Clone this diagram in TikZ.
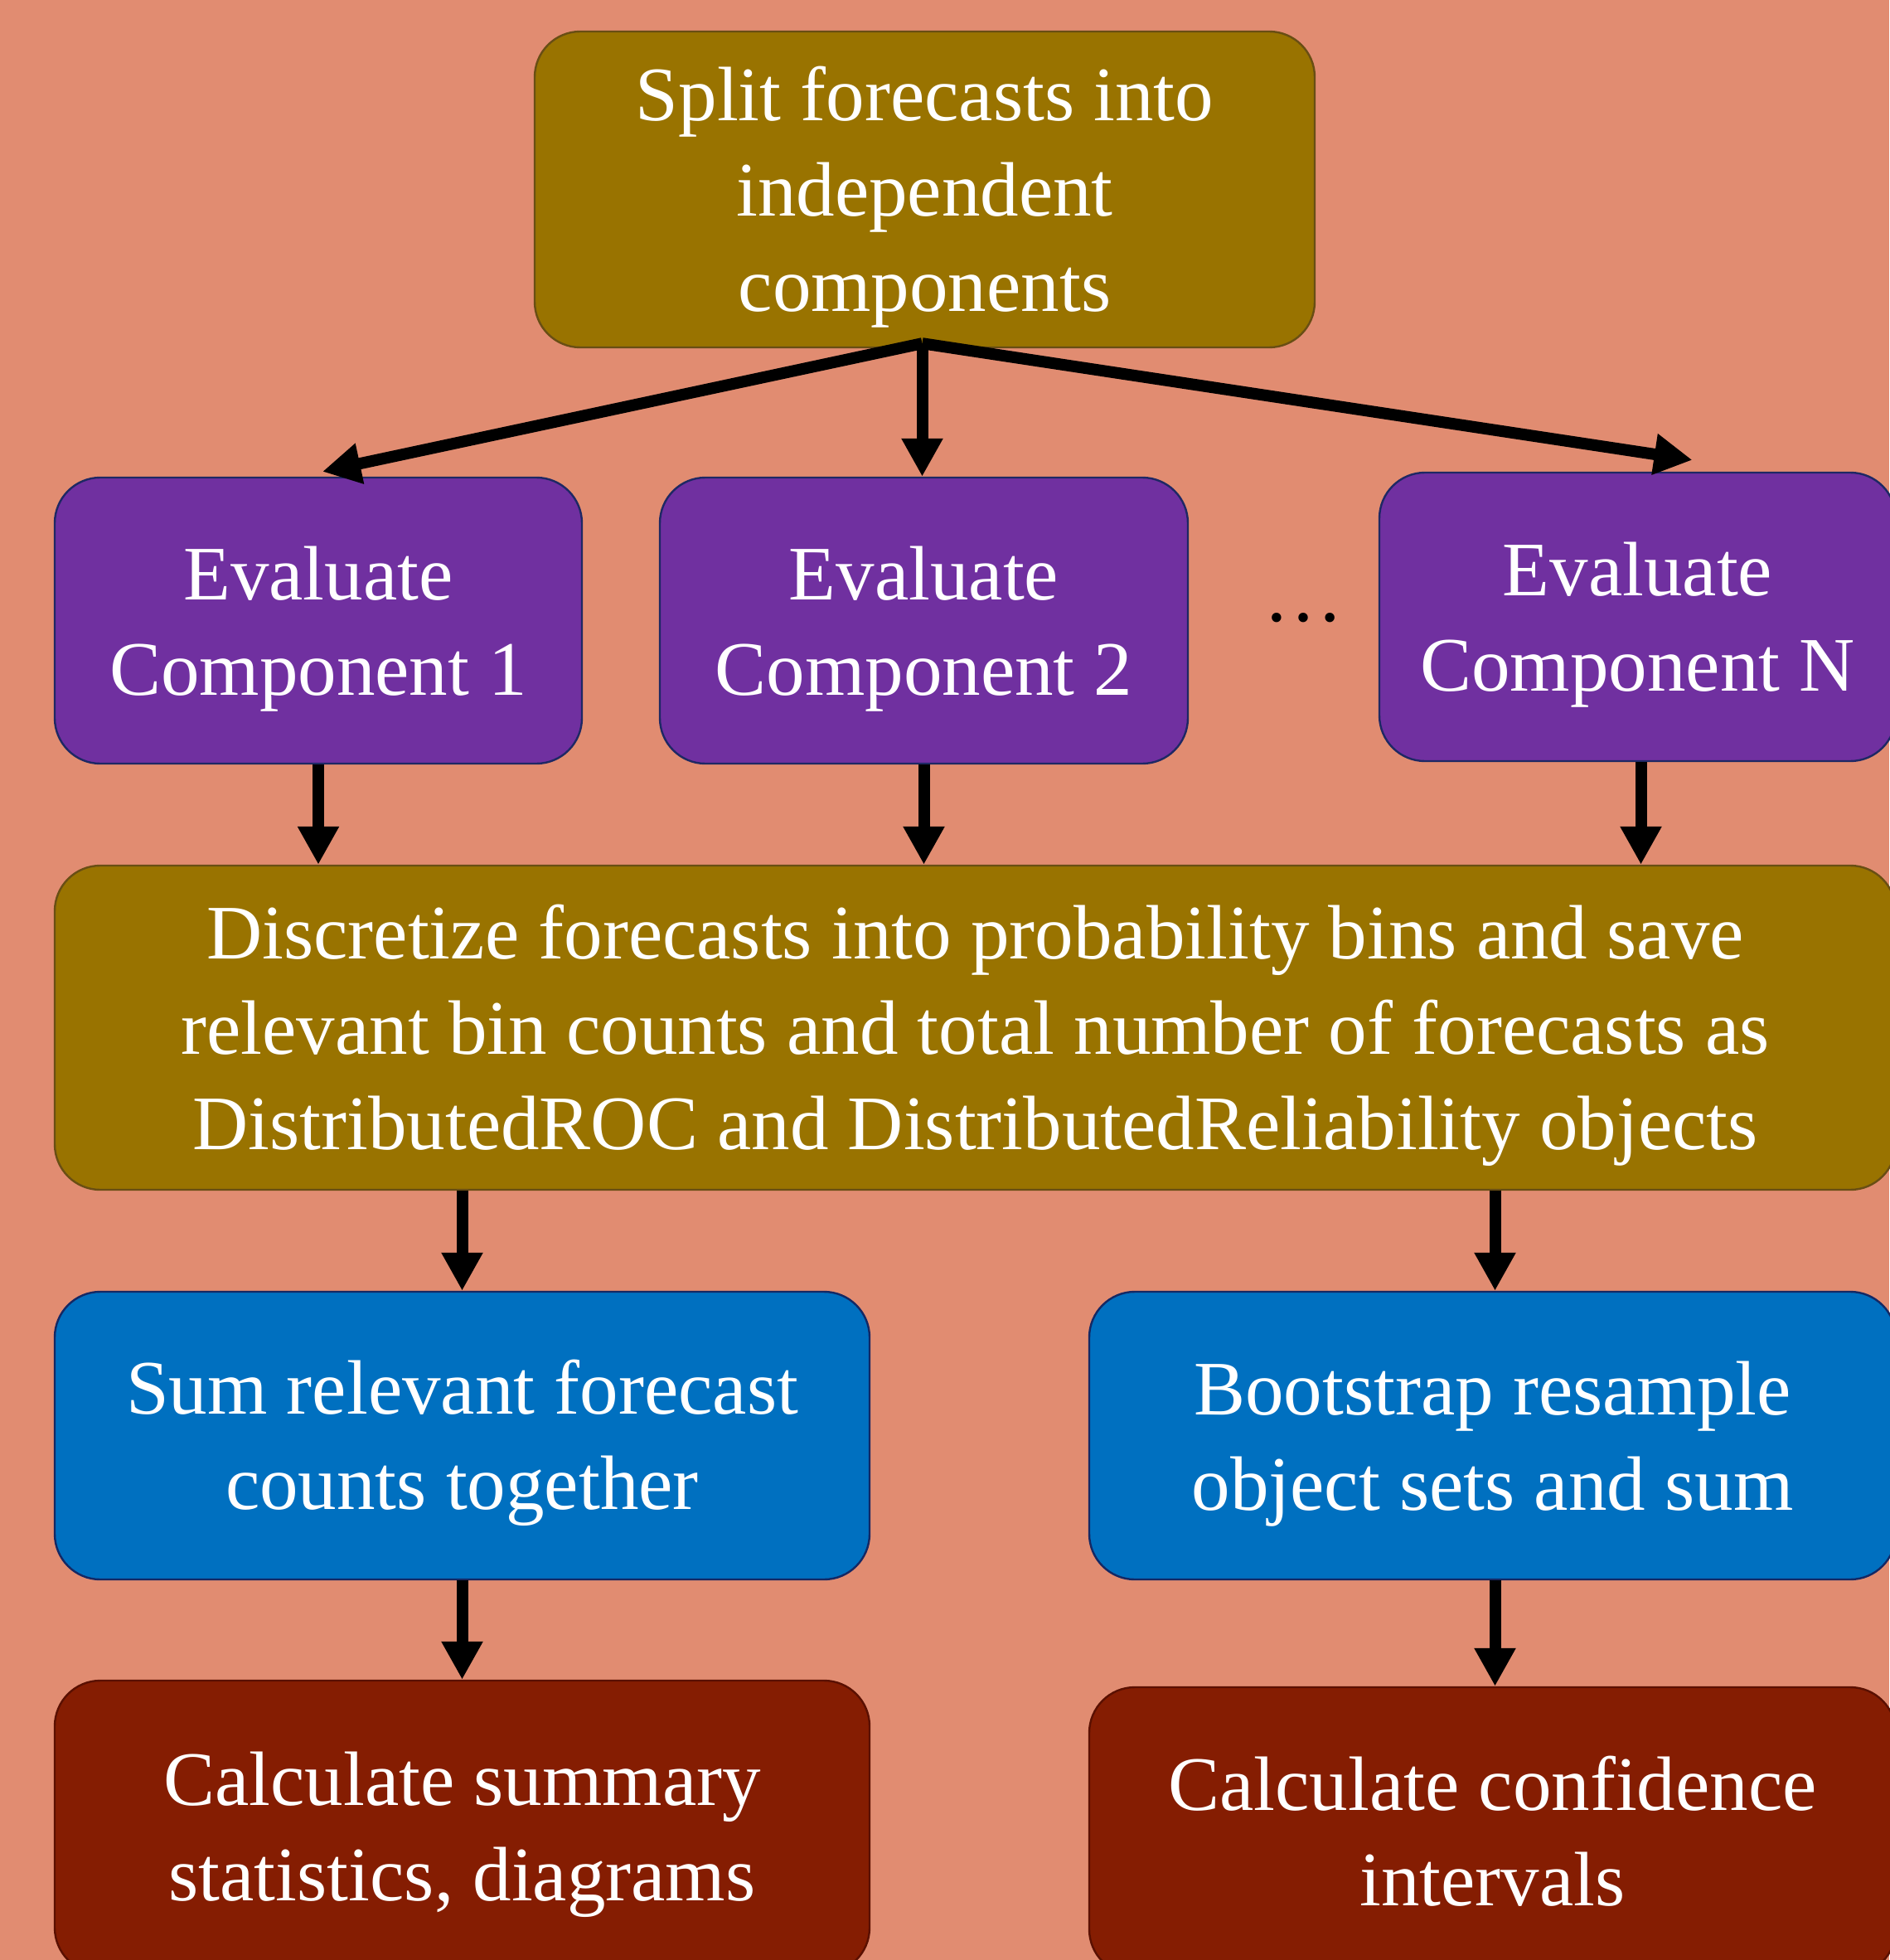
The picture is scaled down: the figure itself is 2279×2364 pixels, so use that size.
\documentclass[tikz,border=0pt]{standalone}
\usepackage{fontspec}
\setmainfont{Liberation Serif}
\usetikzlibrary{arrows.meta,calc}
\definecolor{bgc}{RGB}{225,140,113}
\definecolor{olivef}{RGB}{153,115,0}
\definecolor{oliveb}{RGB}{105,78,20}
\definecolor{purplef}{RGB}{112,48,160}
\definecolor{purpleb}{RGB}{30,40,100}
\definecolor{bluef}{RGB}{0,112,192}
\definecolor{blueb}{RGB}{20,40,100}
\definecolor{redf}{RGB}{133,29,2}
\definecolor{redb}{RGB}{90,16,0}
\newcommand{\topstrut}{\rule{0pt}{42pt}}
\newcommand{\lowstrut}{\rule{0pt}{33pt}}
\begin{document}
\begin{tikzpicture}[x=0.5pt,y=-0.5pt,
  box/.style={rounded corners=27.5pt, draw, line width=1.2pt, text=white,
    align=center, inner sep=0pt, font=\fontsize{46.5}{57.5}\selectfont},
  olivebox/.style={box, fill=olivef, draw=oliveb},
  purplebox/.style={box, fill=purplef, draw=purpleb},
  bluebox/.style={box, fill=bluef, draw=blueb},
  redbox/.style={box, fill=redf, draw=redb},
  conn/.style={line width=7pt, -{Triangle[width=23.5pt,length=23pt]}},
]
\fill[bgc] (0,0) rectangle (2279,2364);
\useasboundingbox (0,0) rectangle (2279,2364);

\node[olivebox, minimum width=470.5pt, minimum height=190.5pt] (top) at (1115.5,228.5)
  {\topstrut Split forecasts into\\independent\\components};

\node[purplebox, minimum width=318pt, minimum height=172.5pt] (e1) at (384,748.5)
  {\topstrut Evaluate\\Component 1};
\node[purplebox, minimum width=318.5pt, minimum height=172.5pt] (e2) at (1114.5,748.5)
  {\topstrut Evaluate\\Component 2};
\node[purplebox, minimum width=311.5pt, minimum height=174pt] (eN) at (1975.5,744)
  {\topstrut Evaluate\\Component N};
\node[inner sep=0pt, font=\fontsize{48}{57}\selectfont] (dots) at (1572,745) {…};

\node[olivebox, minimum width=1110.5pt, minimum height=195.5pt] (disc) at (1176.5,1239.5)
  {\topstrut Discretize forecasts into probability bins and save\\relevant bin counts and total number of forecasts as\\DistributedROC and DistributedReliability objects};

\node[bluebox, minimum width=491.5pt, minimum height=173.5pt] (sum) at (557.5,1731.5)
  {\topstrut Sum relevant forecast\\counts together};
\node[bluebox, minimum width=486.5pt, minimum height=173.5pt] (boot) at (1800.5,1731.5)
  {\topstrut Bootstrap resample\\object sets and sum};

\node[redbox, minimum width=491.5pt, minimum height=176.5pt] (cs) at (557.5,2203.5)
  {\topstrut Calculate summary\\statistics, diagrams};
\node[redbox, minimum width=486.5pt, minimum height=173.5pt] (cc) at (1800.5,2208.5)
  {\lowstrut Calculate confidence\\intervals};

\coordinate (src) at ($(top.south)+(-3,-6)$);
\coordinate (t1) at ($(e1.north)+(5,-6)$);
\coordinate (tN) at ($(eN.north)+(66,-14)$);

\draw[conn] (src) -- (t1);
\draw[conn] (src) -- (src |- e2.north);
\draw[conn] (src) -- (tN);

\draw[conn] (e1.south) -- (e1.south |- disc.north);
\draw[conn] (e2.south) -- (e2.south |- disc.north);
\draw[conn] ([xshift=2pt]eN.south) -- ([xshift=2pt]eN.south |- disc.north);

\draw[conn] (sum.north |- disc.south) -- (sum.north);
\draw[conn] ([xshift=1.5pt]boot.north |- disc.south) -- ([xshift=1.5pt]boot.north);

\draw[conn] (sum.south) -- (cs.north);
\draw[conn] ([xshift=1.5pt]boot.south) -- ([xshift=1.5pt]boot.south |- cc.north);
\end{tikzpicture}
\end{document}
